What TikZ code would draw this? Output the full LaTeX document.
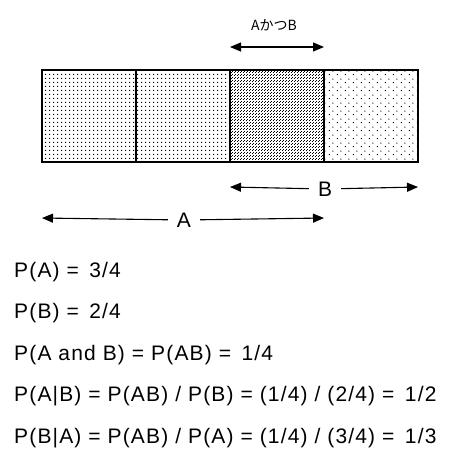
\documentclass[tikz,border=0pt]{standalone}
\usepackage{fontspec}
\setmainfont{Liberation Sans}[LetterSpace=5.5]
\newfontfamily\jpfont{Noto Sans CJK JP}
\usetikzlibrary{arrows.meta,patterns}
\pgfdeclarepatternformonly{griddots}{\pgfqpoint{0pt}{0pt}}{\pgfqpoint{4pt}{4pt}}{\pgfqpoint{4pt}{4pt}}{%
  \pgfpathrectangle{\pgfqpoint{1.5pt}{1.5pt}}{\pgfqpoint{1pt}{1pt}}\pgfusepath{fill}}
\pgfdeclarepatternformonly{densedots}{\pgfqpoint{0pt}{0pt}}{\pgfqpoint{3pt}{3pt}}{\pgfqpoint{3pt}{3pt}}{%
  \pgfpathrectangle{\pgfqpoint{0pt}{0pt}}{\pgfqpoint{1pt}{1pt}}%
  \pgfpathrectangle{\pgfqpoint{1.5pt}{1.5pt}}{\pgfqpoint{1pt}{1pt}}\pgfusepath{fill}}
\pgfdeclarepatternformonly{sparsedots}{\pgfqpoint{0pt}{0pt}}{\pgfqpoint{8pt}{8pt}}{\pgfqpoint{8pt}{8pt}}{%
  \pgfpathrectangle{\pgfqpoint{1pt}{1pt}}{\pgfqpoint{1pt}{1pt}}%
  \pgfpathrectangle{\pgfqpoint{5pt}{5pt}}{\pgfqpoint{1pt}{1pt}}\pgfusepath{fill}}
\tikzset{
  cell/.style={minimum width=94pt, minimum height=92pt, inner sep=0pt, outer sep=0pt},
  divider/.style={line width=2pt},
  tip/.tip={Triangle[length=11pt,width=9pt]},
  dimarrow/.style={line width=1.1pt, tip-tip},
  halfarrow/.style={line width=1.1pt, -tip},
  eqtext/.style={anchor=base west, inner sep=0pt, font=\fontsize{21}{25}\selectfont},
  dimlabel/.style={inner sep=0pt, minimum width=32pt, font=\fontsize{21}{25}\selectfont}
}
\begin{document}
\begin{tikzpicture}[x=1pt,y=-1pt]
\useasboundingbox[fill=white] (0,0) rectangle (463,459);
% cells
\node[cell, pattern=griddots] (c1) at (89,116) {};
\node[cell, pattern=griddots] (c2) at (183,116) {};
\node[cell, pattern=densedots] (c3) at (277,116) {};
\node[cell, pattern=sparsedots] (c4) at (371,116) {};
\draw[line width=1.3pt] (c1.north west) rectangle (c4.south east);
\draw[divider] (c1.north east) -- (c1.south east);
\draw[divider] (c2.north east) -- (c2.south east);
\draw[divider] (c3.north east) -- (c3.south east);
% top arrow (A and B)
\coordinate (t1) at (230,47);
\coordinate (t2) at (324,47);
\draw[dimarrow] (t1) -- (t2);
\node[font=\jpfont\fontsize{14}{16}\selectfont, inner sep=0pt] (tl) at (274,25) {AかつB};
% B arrow
\coordinate (b1) at (230,187);
\coordinate (b2) at (418,187);
\node[dimlabel] (bl) at (325,189) {B};
\draw[halfarrow] (bl) -- (b1);
\draw[halfarrow] (bl) -- (b2);
% A arrow
\coordinate (a1) at (42,218);
\coordinate (a2) at (324,218);
\node[dimlabel] (al) at (184,220) {A};
\draw[halfarrow] (al) -- (a1);
\draw[halfarrow] (al) -- (a2);
% equations
\node[eqtext] (e1) at (14,277) {P(A) = \,3/4};
\node[eqtext] (e2) at (14,318) {P(B) = \,2/4};
\node[eqtext] (e3) at (14,360) {P(A and B) = P(AB) = \,1/4};
\node[eqtext] (e4) at (14,401) {P(A|B) = P(AB) / P(B) = (1/4) / (2/4) = \,1/2};
\node[eqtext] (e5) at (14,443) {P(B|A) = P(AB) / P(A) = (1/4) / (3/4) = \,1/3};
\end{tikzpicture}
\end{document}
